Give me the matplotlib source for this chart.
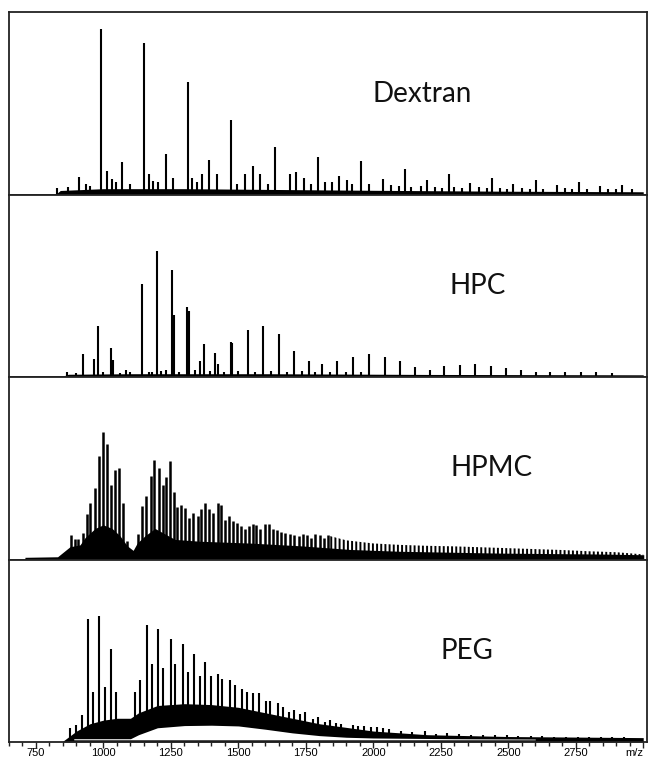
import matplotlib
matplotlib.use('Agg')
import matplotlib.pyplot as plt
from matplotlib.ticker import MultipleLocator

plt.rcParams['font.family'] = ['Lato', 'DejaVu Sans']
plt.rcParams['hatch.color'] = 'black'
plt.rcParams['hatch.linewidth'] = 1.4

# intensities are in % of the panel height

# Dextran
dextran_mz = [990, 1151, 1313, 1474, 1636, 1795, 1956, 2119, 2280, 2441, 2602, 2762, 2923,
              910, 1070, 1232, 1392, 1553, 1715, 1874, 2034, 2197, 2357, 2519, 2680, 2840,
              829, 870, 935, 950, 1012, 1031, 1047, 1099, 1170, 1185, 1203, 1259, 1328, 1348,
              1365, 1421, 1496, 1526, 1581, 1610, 1690, 1742, 1770, 1822, 1847, 1903, 1921,
              1983, 2066, 2095, 2140, 2175, 2230, 2255, 2300, 2330, 2390, 2420, 2470, 2495,
              2550, 2580, 2630, 2710, 2735, 2790, 2870, 2900, 2960]
dextran_int = [90.7, 83, 61.7, 40.6, 26.2, 20.8, 18.4, 14.2, 11.5, 9.3, 7.8, 6.9, 5.1,
               9.8, 18, 22.4, 19, 15.8, 12.6, 10, 8.7, 7.7, 6.5, 5.5, 5, 4.5,
               3.3, 4, 6, 4.5, 13, 8.5, 7, 5.5, 11, 7.5, 7, 9, 9, 7,
               11, 11, 5.5, 11, 11, 6, 11, 9, 5.5, 7, 7, 8, 6,
               6, 5, 4.5, 4, 4.5, 4, 3.5, 4, 3.5, 4, 3.5, 3.5, 3,
               3.5, 3, 3, 3.5, 3, 3, 3, 2.8, 3]
dextran_floor_mz = [826, 840, 1000, 1300, 1600, 2000, 2500, 3000]
dextran_floor_int = [0.5, 2.2, 3.2, 3.2, 2.8, 2.3, 1.8, 1.5]

# HPC
hpc_mz = [866, 923, 966, 981, 1027, 1037, 1084, 1142, 1198, 1255, 1263, 1311, 1316, 1358,
          1373, 1414, 1423, 1472, 1476, 1534, 1593, 1650, 1705, 1760, 1810, 1866, 1925,
          1984, 2042, 2098, 2156, 2209, 2261, 2320, 2378, 2435, 2493, 2548, 2602, 2655,
          2710, 2769, 2825, 2886,
          900, 1000, 1060, 1100, 1170, 1180, 1215, 1230, 1280, 1340, 1395, 1445, 1500,
          1560, 1620, 1680, 1735, 1785, 1840, 1900, 1955]
hpc_int = [3, 12.7, 10, 28.2, 15.7, 9.4, 3.9, 51.2, 69.2, 58.7, 34, 38.5, 36, 8.5,
           18.2, 13, 7, 19.3, 18.9, 26, 28.2, 23.8, 14, 8.5, 7.2, 9, 11.2,
           12.7, 10.7, 9, 5.3, 4, 6, 6.6, 7.2, 6, 5.1, 3.9, 3, 3,
           3, 3, 3, 2.4,
           2, 2.5, 2, 2.5, 3, 2.5, 3.5, 4, 3, 4, 3.5, 3, 3.5,
           3, 3.5, 3, 3.5, 2.5, 2.5, 2.5, 2.5]
hpc_floor_mz = [850, 870, 1100, 1600, 2200, 3000]
hpc_floor_int = [0.5, 1.5, 1.8, 1.8, 1.4, 1.2]

# HPMC
hpmc_mz = [880, 893, 906, 926, 940, 950, 969, 984, 999, 1013, 1028, 1043, 1058, 1073, 1086,
           1127, 1142, 1158, 1175, 1189, 1204, 1219, 1232, 1247, 1260, 1272, 1288, 1303,
           1318, 1331, 1349, 1362, 1377, 1392, 1406, 1423, 1436, 1451, 1466, 1480, 1495,
           1509, 1525, 1538, 1553, 1566, 1581, 1597, 1612, 1627, 1643, 1659, 1674, 1690,
           1705, 1723, 1740, 1754, 1770, 1785, 1801, 1816, 1831]
hpmc_int = [13.3, 11.5, 11.5, 14.6, 25, 31, 39, 56.5, 69.6, 63.4, 41, 48.8, 50, 31, 10,
            14.2, 29.5, 35, 46, 54.6, 50, 40.6, 45, 53.7, 36.8, 29, 30, 28.2,
            22.8, 25.5, 23.7, 27.7, 31, 27.7, 25.5, 31, 30, 21.9, 23.7, 21, 20,
            18.2, 16.8, 18.2, 19.7, 19.1, 16.8, 19.7, 19.7, 16.8, 16, 15.3, 14.6, 13.8,
            13.3, 12.8, 14.2, 13.3, 11.8, 14, 13.3, 11.8, 13.3]
hpmc_floor_mz = [709, 830, 876, 913, 932, 969, 999, 1032, 1061, 1088, 1110, 1125, 1154,
                 1191, 1228, 1265, 1358, 1544, 1730, 1915, 2100, 2472, 2843, 3002]
hpmc_floor_int = [1.2, 1.5, 7, 8, 12, 17, 19, 17, 13, 7.5, 5, 9, 13,
                  17, 14, 11, 10, 9, 7.5, 5.5, 4.5, 3.5, 3, 2.6]
hpmc_tail_mz = [1835, 1900, 2000, 2100, 2200, 2300, 2400, 2500, 2600, 2700, 2800, 2900, 3000]
hpmc_tail_int = [13, 10.5, 8.8, 8, 7.5, 7.2, 6.7, 6.2, 5.7, 5.2, 4.5, 4, 2.8]

# PEG
peg_mz = [876, 898, 920, 942, 963, 985, 1006, 1027, 1047, 1072, 1092, 1117, 1136, 1161,
          1180, 1203, 1222, 1250, 1266, 1293, 1313, 1336, 1356, 1377, 1398, 1426, 1441,
          1470, 1488, 1513, 1532, 1554, 1575, 1602, 1616, 1645, 1665, 1686, 1707, 1730,
          1748, 1777, 1795, 1822, 1838, 1863, 1882, 1925, 1945, 1967, 1990, 2012, 2035,
          2057, 2101, 2144, 2190, 2231, 2274, 2317, 2363, 2407, 2449, 2494, 2536, 2583,
          2626, 2670, 2715, 2760, 2800, 2845, 2886, 2929]
peg_int = [7.5, 9.3, 14.8, 67.6, 27.3, 69.2, 30, 51, 27.3, 12, 12.6, 27.6, 33.7, 64.3,
           42.7, 62, 40.5, 56.6, 42.9, 53.8, 38.6, 48.4, 36.3, 44.1, 36.4, 37.4, 34.4,
           33.7, 31.3, 29, 27.6, 27.1, 26.7, 22.7, 22.7, 21.3, 19, 16.3, 17.5, 15.6,
           16.5, 12.6, 13.6, 11.2, 12, 10.3, 9.7, 9.3, 8.8, 8.6, 8.2, 8, 7.6,
           7.3, 6.2, 5.5, 5.9, 4.6, 5, 4.6, 4, 4, 4, 3.7, 3.5, 3.1,
           3.1, 2.8, 2.7, 2.6, 2.5, 2.6, 3, 3]
peg_floor_mz = [850, 900, 950, 1000, 1050, 1100, 1130, 1200, 1300, 1400, 1500, 1600,
                1700, 1800, 1900, 2000, 2200, 2500, 3000]
peg_floor_int = [0.5, 6, 10, 12, 13, 13, 16, 20, 21, 20.5, 19, 16,
                 13, 10, 8, 6, 4, 3, 2.4]
# white hump under the PEG envelope
peg_gap_mz = [890, 1100, 1130, 1200, 1300, 1400, 1500, 1600, 1700, 1800, 1900, 2000, 2300, 2600]
peg_gap_int = [1.8, 1.8, 4, 7.8, 9, 9.2, 8.8, 7, 5, 3.5, 2.6, 2.2, 1.8, 1.6]

labels = ['Dextran', 'HPC', 'HPMC', 'PEG']
label_pos = [(2181, 55), (2385, 50), (2437, 50), (2348, 50)]

major_ticks = [750, 1000, 1250, 1500, 1750, 2000, 2250, 2500, 2750, 3000]
major_labels = ['750', '1000', '1250', '1500', '1750', '2000', '2250', '2500', '2750', 'm/z']


def draw_panel(ax, mz, inten, floor_mz, floor_int, lw=1.5):
    ax.fill_between(floor_mz, 0, floor_int, color='black', lw=0)
    ax.vlines(mz, 0, inten, color='black', lw=lw)


fig, axes = plt.subplots(4, 1, figsize=(6.54, 7.6), dpi=100, sharex=True)
fig.subplots_adjust(left=9/654, right=647/654, bottom=1-742/760, top=1-12/760, hspace=0)

draw_panel(axes[0], dextran_mz, dextran_int, dextran_floor_mz, dextran_floor_int)
draw_panel(axes[1], hpc_mz, hpc_int, hpc_floor_mz, hpc_floor_int)
draw_panel(axes[2], hpmc_mz, hpmc_int, hpmc_floor_mz, hpmc_floor_int, lw=1.8)
axes[2].fill_between(hpmc_tail_mz, 0, hpmc_tail_int, facecolor='none', edgecolor='black',
                     hatch='||||', lw=0)
draw_panel(axes[3], peg_mz, peg_int, peg_floor_mz, peg_floor_int)
axes[3].fill_between(peg_gap_mz, 1.2, peg_gap_int, color='white', lw=0, zorder=3)

for ax, name, pos in zip(axes, labels, label_pos):
    ax.set_ylim(0, 100)
    ax.set_xlim(650, 3014)
    ax.set_yticks([])
    for s in ax.spines.values():
        s.set_linewidth(1.3)
        s.set_color('#222222')
    ax.tick_params(axis='x', which='both', bottom=False, labelbottom=False)
    ax.text(pos[0], pos[1], name, fontsize=20, ha='center', va='center', color='#111111')

bottom = axes[-1]
bottom.set_xticks(major_ticks)
bottom.set_xticklabels(major_labels)
bottom.xaxis.set_minor_locator(MultipleLocator(50))
bottom.tick_params(axis='x', which='both', bottom=True, labelbottom=True, direction='out',
                   width=1, color='#222222', labelsize=8, pad=0.5)
bottom.tick_params(axis='x', which='major', length=4)
bottom.tick_params(axis='x', which='minor', length=3)
for t in bottom.get_xticklabels():
    t.set_fontfamily(['Liberation Sans', 'DejaVu Sans'])
bottom.get_xticklabels()[-1].set_horizontalalignment('right')

fig.savefig('out.png', dpi=100)
